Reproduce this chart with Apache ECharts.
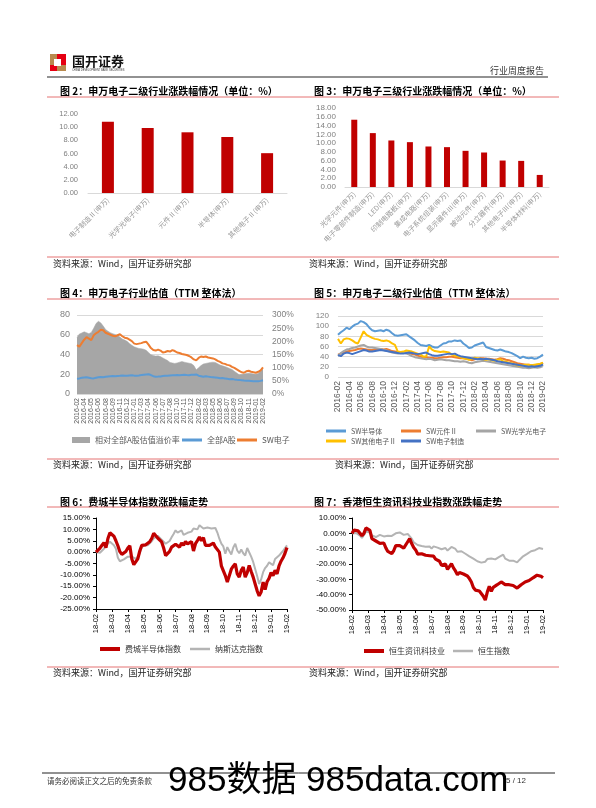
<!DOCTYPE html>
<html><head><meta charset="utf-8">
<script src="https://cdn.jsdelivr.net/npm/echarts/dist/echarts.min.js"></script>
<style>html,body{margin:0;padding:0;background:#fff}#c{width:596px;height:808px}</style>
</head><body><div id="c"></div>
<script>
// ---------- DATA ----------
const fig2Categories = ['电子制造Ⅱ(申万)','光学光电子(申万)','元件Ⅱ(申万)','半导体(申万)','其他电子Ⅱ(申万)'];
const fig2Values = [10.84, 9.87, 9.22, 8.51, 6.05];

const fig3Categories = ['光学元件(申万)','电子零部件制造(申万)','LED(申万)','印制电路板(申万)','集成电路(申万)','电子系统组装(申万)','显示器件Ⅲ(申万)','被动元件(申万)','分立器件(申万)','其他电子Ⅲ(申万)','半导体材料(申万)'];
const fig3Values = [15.33, 12.28, 10.60, 10.22, 9.23, 9.08, 8.24, 7.86, 6.03, 5.95, 2.75];

const fig4Ticks = ['2016-02','2016-04','2016-05','2016-06','2016-08','2016-09','2016-11','2016-12','2017-01','2017-03','2017-04','2017-06','2017-07','2017-08','2017-10','2017-11','2017-12','2018-02','2018-03','2018-05','2018-06','2018-07','2018-09','2018-10','2018-11','2019-01','2019-02'];
const fig4Premium = [215,228,232,236,233,229,234,250,268,276,270,258,245,238,233,229,226,222,216,209,205,200,192,185,179,176,173,172,170,166,158,149,146,144,145,142,137,132,127,120,118,116,118,121,123,121,119,117,115,108,92,100,108,114,116,118,120,121,120,115,110,107,104,101,97,93,86,80,73,74,76,78,79,78,76,75,78,87,96];
const fig4AllA = [15.5,15.8,16.5,16.8,17.0,16.5,16.0,15.8,16.5,17.0,17.3,17.0,17.5,17.8,18.0,18.2,18.0,18.3,18.5,18.8,18.6,18.4,18.8,19.0,18.6,18.5,18.8,19.2,19.5,19.8,20.0,19.2,18.0,17.5,17.6,17.8,18.2,18.5,18.6,18.8,19.0,19.0,19.2,19.0,19.3,19.5,19.2,19.0,19.4,19.6,19.8,18.5,18.0,17.4,18.0,17.6,17.2,17.0,16.8,16.4,16.0,16.2,15.8,15.4,15.0,15.2,14.8,14.5,14.3,14.0,13.6,13.5,13.4,13.2,13.0,12.8,12.9,13.3,13.9];
const fig4SW = [49.5,48.0,51.5,55.0,57.5,56.0,54.5,59.5,61.5,63.0,65.0,64.5,62.0,61.0,60.0,59.0,58.5,59.5,60.5,58.5,57.0,56.5,55.0,53.5,51.0,50.5,51.0,51.5,52.5,53.0,50.0,46.5,44.5,44.0,45.0,44.0,42.0,42.5,43.5,43.0,44.5,43.5,42.0,41.5,40.5,40.0,39.5,38.5,37.0,35.0,34.0,36.5,38.0,37.5,38.0,37.0,36.5,36.0,35.0,33.5,32.5,31.0,30.5,29.5,29.0,27.5,26.5,25.0,23.5,22.0,21.5,23.0,23.5,22.5,22.0,21.5,22.5,24.0,27.0];

const fig5Ticks = ['2016-02','2016-04','2016-06','2016-08','2016-10','2016-12','2017-02','2017-04','2017-06','2017-08','2017-10','2017-12','2018-02','2018-04','2018-06','2018-08','2018-10','2018-12','2019-02'];
const fig5Semi = [83,88,92,97,94,99,103,105,110,108,104,97,92,90,91,92,90,93,91,86,82,81,82,83,84,80,76,72,67,63,62,61,63,60,58,58,62,66,67,70,70,72,71,72,66,62,57,58,62,64,66,68,59,57,55,53,52,54,52,50,49,47,44,41,37,40,38,37,38,36,37,40,44];
const fig5Comp = [44,46,48,50,51,52,53,55,56,55,54,53,53,54,55,55,54,55,53,51,50,49,49,48,48,47,45,44,42,40,39,39,38,38,37,37,38,39,39,40,40,39,38,37,37,36,35,33,35,36,37,37,36,36,35,34,35,37,36,34,33,31,29,27,26,25,24,24,23,23,24,25,28];
const fig5Opto = [42,47,51,54,55,57,58,60,62,63,60,58,58,57,56,55,53,52,50,48,47,46,47,48,46,44,41,39,38,37,36,35,36,35,33,34,35,34,33,33,32,31,31,30,31,30,28,27,29,30,31,32,31,30,29,28,27,26,25,24,23,22,21,20,19,18,18,17,18,19,18,19,23];
const fig5Other = [75,66,74,76,75,72,68,66,78,90,83,80,77,75,74,72,71,72,70,66,63,50,49,50,52,51,50,48,46,44,40,41,60,54,51,50,49,50,49,48,44,42,41,39,37,36,34,36,38,37,36,35,34,35,33,32,34,35,31,30,28,27,25,23,22,23,24,24,23,24,25,26,28];
const fig5Mfg = [43,41,46,48,47,45,47,49,51,53,52,50,50,51,52,53,52,51,50,49,48,47,46,46,47,48,47,46,45,46,47,48,45,43,42,42,43,44,45,46,45,46,43,41,40,39,38,37,36,35,36,35,36,35,34,33,31,30,29,28,27,26,25,24,23,22,21,20,21,20,21,22,25];

const fig67Ticks = ['18-02','18-03','18-04','18-05','18-06','18-07','18-08','18-09','18-10','18-11','18-12','19-01','19-02'];
const fig6Sox = [0,0.8,1.8,3.0,4.2,2.0,6.0,8.5,9.2,7.0,5.0,2.8,0.2,-1.0,-1.5,0.3,1.8,2.8,-3.0,-5.5,-5.1,-3.0,0.5,3.0,3.5,3.2,4.0,4.6,6.0,8.3,7.6,6.2,7.0,4.5,1.8,-1.5,-1.8,0.3,2.2,1.5,3.5,3.2,2.2,4.0,3.0,4.7,3.6,3.2,4.6,0.5,3.7,5.1,6.6,5.0,6.4,3.0,2.2,3.0,3.7,4.0,2.2,3.0,0.0,-6.0,-5.5,-10.3,-13.2,-14.0,-7.5,-6.2,-5.1,-9.6,-11.0,-8.0,-6.6,-11.0,-9.0,-5.9,-8.5,-11.0,-14.0,-17.0,-19.2,-17.5,-13.2,-16.5,-13.0,-11.5,-9.0,-10.3,-8.0,-9.6,-6.0,-4.0,-2.5,-0.5,2.0];
const fig6Nasdaq = [0,-0.5,-0.3,0.5,1.5,3.0,3.8,4.6,5.0,3.0,1.5,-2.5,-4.0,-4.4,-3.2,-3.7,-2.0,-1.2,-2.0,-2.5,-3.0,-2.0,-0.5,2.0,3.0,2.8,3.0,3.6,4.8,6.0,6.6,7.2,6.8,5.5,4.8,3.7,4.0,4.9,6.5,8.0,9.6,8.6,8.5,9.6,7.6,8.0,8.5,8.1,9.0,10.4,10.2,10.0,11.8,11.3,10.4,10.6,10.8,11.0,10.4,10.3,10.6,8.6,5.9,3.7,2.5,-0.7,2.2,0.5,-1.0,2.0,3.7,0.7,-0.5,1.2,-0.5,-1.5,1.8,1.2,-2.0,-4.3,-7.4,-10.5,-14.0,-12.0,-8.8,-7.0,-6.0,-4.5,-5.2,-5.8,-3.0,-2.6,-1.5,-0.5,0.5,1.8,3.0];
const fig7HsIT = [0,2.2,2.4,1.6,0.5,-1.5,0.0,3.5,4.8,2.0,-3.5,-4.2,-5.0,-4.0,-6.5,-7.8,-6.3,-9.5,-11.8,-11.3,-13.2,-11.2,-8.0,-8.5,-8.0,-7.8,-9.6,-9.0,-5.5,-3.5,-6.7,-9.2,-10.8,-13.5,-12.2,-13.3,-12.6,-14.3,-14.0,-14.6,-15.4,-14.9,-16.8,-17.0,-18.2,-20.9,-21.5,-20.0,-23.5,-22.5,-19.8,-22.5,-24.5,-27.0,-25.5,-24.8,-26.5,-27.0,-27.8,-29.5,-31.7,-35.3,-37.0,-36.5,-37.6,-37.2,-41.0,-43.5,-38.3,-34.5,-37.8,-35.2,-35.8,-33.5,-33.5,-31.7,-30.9,-33.4,-33.0,-33.5,-34.3,-34.0,-35.0,-35.7,-34.6,-33.5,-33.8,-31.7,-31.2,-30.8,-29.6,-29.0,-28.5,-27.3,-26.5,-28.0,-29.0];
const fig7Hsi = [0,0.3,0.2,-0.5,-1.5,-3.0,-1.0,1.0,2.0,0.5,-1.3,-2.0,-2.4,-1.2,-1.0,-1.7,-2.0,-2.4,-1.6,-1.4,-1.7,-1.0,0.0,0.8,0.6,-0.2,-1.0,-1.7,-0.4,-1.2,-3.5,-5.8,-7.0,-7.6,-8.0,-8.3,-8.6,-8.8,-8.0,-8.6,-10.0,-8.5,-8.0,-9.3,-10.0,-10.4,-10.0,-9.6,-11.2,-10.5,-8.9,-9.3,-10.2,-12.0,-11.9,-11.7,-12.5,-13.3,-14.0,-15.0,-15.4,-16.5,-17.8,-18.2,-18.7,-19.1,-20.4,-18.5,-16.8,-17.5,-16.4,-16.2,-17.0,-16.2,-15.4,-14.5,-13.9,-16.5,-17.2,-17.8,-18.3,-17.8,-18.0,-19.0,-17.5,-16.5,-15.0,-13.9,-13.4,-12.8,-11.7,-11.4,-11.0,-10.2,-9.6,-9.0,-10.2];

// ---------- BUILD ----------
const CJK = '"Noto Sans CJK SC", sans-serif';
const LAT = '"Liberation Sans", "Noto Sans CJK SC", sans-serif';
function expand(ticks, step){ const out=[]; ticks.forEach((t,k)=>{ const n = k<ticks.length-1?step:1; for(let j=0;j<n;j++) out.push(t); }); return out; }
const fig4Cats = expand(fig4Ticks, 3);
const fig5Cats = expand(fig5Ticks, 4);
const fig67Cats = expand(fig67Ticks, 8);

const chart = echarts.init(document.getElementById('c'), null, {renderer:'canvas', width:596, height:808});

function txt(x, y, text, font, fill, align){ return {type:'text', x:x, y:y, silent:true, style:{text:text, font:font, fill:fill||'#000', align:align||'left', verticalAlign:'middle'}}; }
function ln(x1,y1,x2,y2,color,w){ return {type:'line', silent:true, shape:{x1:x1,y1:y1,x2:x2,y2:y2}, style:{stroke:color, lineWidth:w||1}}; }
const RED_LINE = '#e57373';
const TF = 'bold 10px ' + CJK;
const SF = '9px ' + CJK;

const graphics = [
  {type:'rect', silent:true, shape:{x:50,y:54,width:16,height:17}, style:{fill:'#b98a4e'}},
  {type:'rect', silent:true, shape:{x:57,y:54,width:9,height:11}, style:{fill:'#e60012'}},
  {type:'rect', silent:true, shape:{x:50,y:65,width:7,height:6}, style:{fill:'#e60012'}},
  {type:'rect', silent:true, shape:{x:54,y:59,width:7,height:7}, style:{fill:'#ffffff'}},
  txt(72, 61, '国开证券', 'bold 13px ' + CJK, '#111'),
  txt(72, 70, 'CHINA DEVELOPMENT BANK SECURITIES', '2.6px ' + LAT, '#333'),
  ln(47, 77, 548, 77, '#6e6e6e', 1.5),
  txt(544, 71, '行业周度报告', '9px ' + CJK, '#333', 'right'),
  // titles
  txt(60, 91, '图 2：申万电子二级行业涨跌幅情况（单位：%）', TF),
  txt(314, 91, '图 3：申万电子三级行业涨跌幅情况（单位：%）', TF),
  ln(47, 97, 559, 97, RED_LINE),
  txt(60, 293, '图 4：申万电子行业估值（TTM 整体法）', TF),
  txt(314, 293, '图 5：申万电子二级行业估值（TTM 整体法）', TF),
  ln(47, 299, 559, 299, RED_LINE),
  txt(60, 502, '图 6：费城半导体指数涨跌幅走势', TF),
  txt(314, 502, '图 7：香港恒生资讯科技业指数涨跌幅走势', TF),
  ln(47, 507, 559, 507, RED_LINE),
  // sources
  ln(47, 257, 559, 257, RED_LINE),
  txt(53, 264, '资料来源：Wind，国开证券研究部', SF, '#222'),
  txt(309, 264, '资料来源：Wind，国开证券研究部', SF, '#222'),
  ln(47, 459, 559, 459, RED_LINE),
  txt(53, 465, '资料来源：Wind，国开证券研究部', SF, '#222'),
  txt(335, 465, '资料来源：Wind，国开证券研究部', SF, '#222'),
  ln(47, 667, 559, 667, RED_LINE),
  txt(53, 673, '资料来源：Wind，国开证券研究部', SF, '#222'),
  txt(309, 673, '资料来源：Wind，国开证券研究部', SF, '#222'),
  // footer
  ln(42, 773, 555, 773, '#222', 1),
  txt(47, 781, '请务必阅读正文之后的免责条款', '7.5px ' + CJK, '#333'),
  txt(506, 781, '5 / 12', '8px ' + LAT, '#333'),
  txt(168, 781, '985数据 985data.com', '35px ' + LAT, '#000')
];

function catAxis(grid, data, o){
  return Object.assign({type:'category', gridIndex:grid, data:data}, o);
}
const barX = (grid, data) => catAxis(grid, data, {
  axisLine:{lineStyle:{color:'#d9d9d9'}}, axisTick:{show:false},
  axisLabel:{rotate:45, interval:0, fontSize:7, color:'#9a9a9a', margin:6, fontFamily:CJK}
});
const lineX = (grid, data, interval, fs, color) => catAxis(grid, data, {
  boundaryGap:false, axisLine:{show:false}, axisTick:{show:false},
  axisLabel:{rotate:90, interval:interval, fontSize:fs, color:color, margin:4, fontFamily:LAT}
});
const pctX = (grid) => catAxis(grid, fig67Cats, {
  boundaryGap:false,
  axisLine:{onZero:false, lineStyle:{color:'#000', width:1}},
  axisTick:{show:true, interval:7, length:3, lineStyle:{color:'#000'}},
  axisLabel:{rotate:90, interval:7, fontSize:7.5, color:'#000', margin:5, fontFamily:LAT}
});
function valY(grid, min, max, interval, o){
  return Object.assign({type:'value', gridIndex:grid, min:min, max:max, interval:interval,
    axisLine:{show:false}, axisTick:{show:false}, splitLine:{show:false}}, o);
}

const option = {
  animation:false,
  backgroundColor:'#fff',
  textStyle:{fontFamily:CJK},
  grid:[
    {left:88, top:114, width:199, height:79},
    {left:345, top:108, width:204, height:79},
    {left:77, top:315, width:186, height:79},
    {left:338, top:316, width:205, height:61},
    {left:96, top:518, width:191, height:91},
    {left:352, top:518, width:191, height:92}
  ],
  xAxis:[
    barX(0, fig2Categories),
    barX(1, fig3Categories),
    lineX(2, fig4Cats, 2, 7, '#595959'),
    lineX(3, fig5Cats, 3, 8.5, '#595959'),
    pctX(4),
    pctX(5)
  ],
  yAxis:[
    valY(0, 0, 12, 2, {axisLabel:{formatter:v=>v.toFixed(2), fontSize:7.5, color:'#808080', margin:10, fontFamily:LAT}}),
    valY(1, 0, 18, 2, {axisLabel:{formatter:v=>v.toFixed(2), fontSize:8, color:'#808080', margin:9, fontFamily:LAT}}),
    valY(2, 0, 80, 20, {axisLabel:{fontSize:9, color:'#808080', margin:7, fontFamily:LAT}, splitLine:{show:true, lineStyle:{color:'#d9d9d9'}}}),
    valY(2, 0, 300, 50, {position:'right', axisLabel:{formatter:'{value}%', fontSize:8.5, color:'#808080', margin:9, fontFamily:LAT}}),
    valY(3, 0, 120, 20, {axisLabel:{fontSize:8, color:'#808080', margin:9, fontFamily:LAT}, splitLine:{show:true, lineStyle:{color:'#d9d9d9'}}}),
    valY(4, -25, 15, 5, {axisLine:{show:true, lineStyle:{color:'#000'}}, axisTick:{show:true, length:3, lineStyle:{color:'#000'}},
      axisLabel:{formatter:v=>v.toFixed(2)+'%', fontSize:8, color:'#000', margin:6, fontFamily:LAT}}),
    valY(5, -50, 10, 10, {axisLine:{show:true, lineStyle:{color:'#000'}}, axisTick:{show:true, length:3, lineStyle:{color:'#000'}},
      axisLabel:{formatter:v=>v.toFixed(2)+'%', fontSize:8, color:'#000', margin:6, fontFamily:LAT}})
  ],
  legend:[
    {left:72, top:436, padding:0, itemWidth:18, itemHeight:6, selectedMode:false, textStyle:{fontSize:8, color:'#595959', fontFamily:CJK}, data:[{name:'相对全部A股估值溢价率', icon:'rect'}]},
    {left:182, top:436, padding:0, itemWidth:20, itemHeight:3, selectedMode:false, textStyle:{fontSize:8, color:'#595959', fontFamily:CJK}, data:[{name:'全部A股', icon:'rect'}]},
    {left:237, top:436, padding:0, itemWidth:20, itemHeight:3, selectedMode:false, textStyle:{fontSize:8, color:'#595959', fontFamily:CJK}, data:[{name:'SW电子', icon:'rect'}]},
    {left:326, top:427.5, padding:0, itemWidth:20, itemHeight:3, selectedMode:false, textStyle:{fontSize:7, color:'#595959', fontFamily:CJK}, data:[{name:'SW半导体', icon:'rect'}]},
    {left:401, top:427.5, padding:0, itemWidth:20, itemHeight:3, selectedMode:false, textStyle:{fontSize:7, color:'#595959', fontFamily:CJK}, data:[{name:'SW元件Ⅱ', icon:'rect'}]},
    {left:476, top:427.5, padding:0, itemWidth:20, itemHeight:3, selectedMode:false, textStyle:{fontSize:7, color:'#595959', fontFamily:CJK}, data:[{name:'SW光学光电子', icon:'rect'}]},
    {left:326, top:437.5, padding:0, itemWidth:20, itemHeight:3, selectedMode:false, textStyle:{fontSize:7, color:'#595959', fontFamily:CJK}, data:[{name:'SW其他电子Ⅱ', icon:'rect'}]},
    {left:401, top:437.5, padding:0, itemWidth:20, itemHeight:3, selectedMode:false, textStyle:{fontSize:7, color:'#595959', fontFamily:CJK}, data:[{name:'SW电子制造', icon:'rect'}]},
    {left:100, top:645, padding:0, itemWidth:20, itemHeight:4, selectedMode:false, textStyle:{fontSize:8, color:'#333', fontFamily:CJK}, data:[{name:'费城半导体指数', icon:'rect'}]},
    {left:190, top:645, padding:0, itemWidth:20, itemHeight:2.5, selectedMode:false, textStyle:{fontSize:8, color:'#333', fontFamily:CJK}, data:[{name:'纳斯达克指数', icon:'rect'}]},
    {left:364, top:647, padding:0, itemWidth:20, itemHeight:4, selectedMode:false, textStyle:{fontSize:8, color:'#333', fontFamily:CJK}, data:[{name:'恒生资讯科技业', icon:'rect'}]},
    {left:453, top:647, padding:0, itemWidth:20, itemHeight:2.5, selectedMode:false, textStyle:{fontSize:8, color:'#333', fontFamily:CJK}, data:[{name:'恒生指数', icon:'rect'}]}
  ],
  graphic: graphics,
  series:[
    {type:'bar', name:'fig2', xAxisIndex:0, yAxisIndex:0, data:fig2Values, barWidth:12, itemStyle:{color:'#c00000'}},
    {type:'bar', name:'fig3', xAxisIndex:1, yAxisIndex:1, data:fig3Values, barWidth:6, itemStyle:{color:'#c00000'}},
    {type:'line', name:'相对全部A股估值溢价率', xAxisIndex:2, yAxisIndex:3, data:fig4Premium, symbol:'none', z:1,
      itemStyle:{color:'#a6a6a6'}, lineStyle:{color:'#a6a6a6', width:0.5}, areaStyle:{color:'#a6a6a6', opacity:1}},
    {type:'line', name:'全部A股', xAxisIndex:2, yAxisIndex:2, data:fig4AllA, symbol:'none', z:3,
      itemStyle:{color:'#5b9bd5'}, lineStyle:{color:'#5b9bd5', width:2}},
    {type:'line', name:'SW电子', xAxisIndex:2, yAxisIndex:2, data:fig4SW, symbol:'none', z:3,
      itemStyle:{color:'#ed7d31'}, lineStyle:{color:'#ed7d31', width:2}},
    {type:'line', name:'SW半导体', xAxisIndex:3, yAxisIndex:4, data:fig5Semi, symbol:'none', itemStyle:{color:'#5b9bd5'}, lineStyle:{color:'#5b9bd5', width:2}},
    {type:'line', name:'SW元件Ⅱ', xAxisIndex:3, yAxisIndex:4, data:fig5Comp, symbol:'none', itemStyle:{color:'#ed7d31'}, lineStyle:{color:'#ed7d31', width:2}},
    {type:'line', name:'SW光学光电子', xAxisIndex:3, yAxisIndex:4, data:fig5Opto, symbol:'none', itemStyle:{color:'#a5a5a5'}, lineStyle:{color:'#a5a5a5', width:2}},
    {type:'line', name:'SW其他电子Ⅱ', xAxisIndex:3, yAxisIndex:4, data:fig5Other, symbol:'none', itemStyle:{color:'#ffc000'}, lineStyle:{color:'#ffc000', width:2}},
    {type:'line', name:'SW电子制造', xAxisIndex:3, yAxisIndex:4, data:fig5Mfg, symbol:'none', itemStyle:{color:'#4472c4'}, lineStyle:{color:'#4472c4', width:2}},
    {type:'line', name:'纳斯达克指数', xAxisIndex:4, yAxisIndex:5, data:fig6Nasdaq, symbol:'none', itemStyle:{color:'#b4b4b4'}, lineStyle:{color:'#b4b4b4', width:2}},
    {type:'line', name:'费城半导体指数', xAxisIndex:4, yAxisIndex:5, data:fig6Sox, symbol:'none', itemStyle:{color:'#c00000'}, lineStyle:{color:'#c00000', width:3.2}},
    {type:'line', name:'恒生指数', xAxisIndex:5, yAxisIndex:6, data:fig7Hsi, symbol:'none', itemStyle:{color:'#b4b4b4'}, lineStyle:{color:'#b4b4b4', width:2}},
    {type:'line', name:'恒生资讯科技业', xAxisIndex:5, yAxisIndex:6, data:fig7HsIT, symbol:'none', itemStyle:{color:'#c00000'}, lineStyle:{color:'#c00000', width:3.2}}
  ]
};
chart.setOption(option);
</script>
</body></html>
